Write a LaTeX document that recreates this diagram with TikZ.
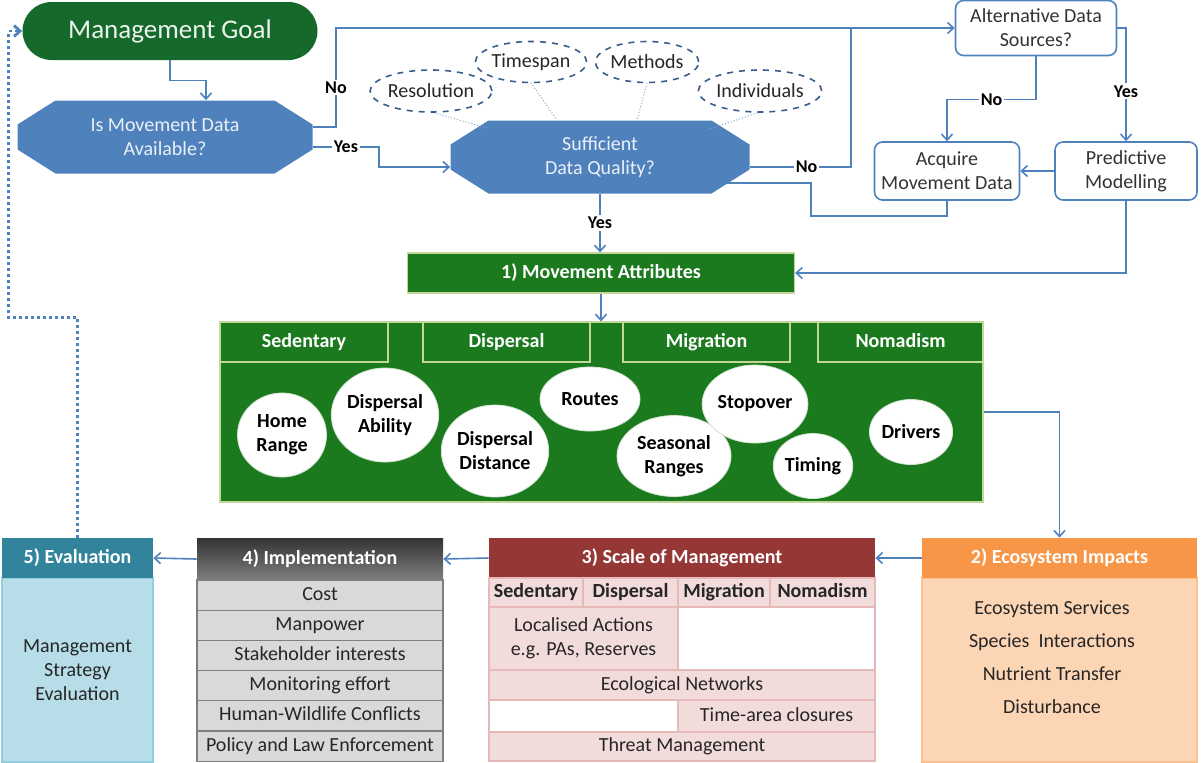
\documentclass[tikz,border=0pt]{standalone}
\usepackage{fontspec}
\setmainfont{Carlito}
\usetikzlibrary{shapes.geometric,shapes.misc,arrows.meta}

\definecolor{lineblue}{HTML}{4F81BD}
\definecolor{cGoal}{HTML}{156A2B}
\definecolor{cGreen}{HTML}{1C7A1E}
\definecolor{cTab}{HTML}{C4D79B}
\definecolor{cEll}{HTML}{385D8A}
\definecolor{cEval}{HTML}{31849B}
\definecolor{cEvalBody}{HTML}{B7DEE8}
\definecolor{cEvalLine}{HTML}{92CDDC}
\definecolor{cImplRow}{HTML}{D9D9D9}
\definecolor{cImplLine}{HTML}{7F7F7F}
\definecolor{cScale}{HTML}{953735}
\definecolor{cScaleCell}{HTML}{F2DCDB}
\definecolor{cScaleLine}{HTML}{E6B9B8}
\definecolor{cEco}{HTML}{F79646}
\definecolor{cEcoBody}{HTML}{FCD5B5}
\definecolor{cEcoLine}{HTML}{FAC090}

\begin{document}
\begin{tikzpicture}[x=0.5pt,y=-0.5pt,>={Straight Barb[length=3pt,width=5.5pt]},
  font=\fontsize{10}{12}\selectfont,
  link/.style={draw=lineblue,line width=0.8pt},
  hint/.style={draw=lineblue!70,densely dotted,line width=0.5pt},
  loopback/.style={draw=lineblue,line width=1.4pt,dash pattern=on 1.4pt off 1.6pt},
  yn/.style={fill=white,inner sep=1pt,font=\fontsize{9}{10}\selectfont\bfseries},
  even/.style={text height=7pt,text depth=2pt},
  decision/.style={minimum width=147.5pt,minimum height=36.5pt,inner sep=0pt,align=center,text=white!88!lineblue,
    path picture={\fill[lineblue] ([xshift=19pt]path picture bounding box.north west)
      -- ([xshift=-19pt]path picture bounding box.north east) -- ([yshift=-12pt]path picture bounding box.north east)
      -- ([yshift=12pt]path picture bounding box.south east) -- ([xshift=-19pt]path picture bounding box.south east)
      -- ([xshift=19pt]path picture bounding box.south west) -- ([yshift=12pt]path picture bounding box.south west)
      -- ([yshift=-12pt]path picture bounding box.north west) -- cycle;}},
  factor/.style={ellipse,draw=cEll,dashed,line width=0.8pt,fill=white,inner sep=0pt,text=black!85},
  choice/.style={rounded corners=4pt,draw=lineblue,line width=0.8pt,fill=white,align=center,text=black!80,inner sep=0pt},
  bar/.style={even,fill=cGreen,draw=cTab,line width=0.6pt,text=white,font=\fontsize{10}{12}\selectfont\bfseries,inner sep=0pt},
  blob/.style={ellipse,fill=white,draw=white!80!cGreen,inner sep=0pt,align=center,font=\fontsize{10}{12}\selectfont\bfseries},
  head/.style={even,text=white,font=\fontsize{10}{12}\selectfont\bfseries,inner sep=0pt},
  implrow/.style={even,fill=cImplRow,draw=cImplLine,line width=0.6pt,minimum width=123pt,minimum height=15.1pt,inner sep=0pt,text=black!85},
  scalecell/.style={fill=cScaleCell,draw=cScaleLine,line width=0.8pt,inner sep=0pt,text=black!85,align=center},
  scaletag/.style={scalecell,even,minimum height=14.5pt,font=\fontsize{10}{12}\selectfont\bfseries}]

\useasboundingbox (0,0) rectangle (1202,762);

% top part
\node[rounded rectangle,fill=cGoal,text=white!92!cGoal,minimum width=147.5pt,minimum height=29pt,inner sep=0pt,
  font=\fontsize{13.5}{15}\selectfont] (goal) at (170,31) {Management Goal};
\node[decision] (avail) at (165,137) {Is Movement Data\\Available?};
\node[decision,minimum width=149.5pt] (suff) at (600,157) {Sufficient\\Data Quality?};

\draw[hint] (431,112) -- ([xshift=-56.5pt,yshift=14.5pt]suff.center);
\draw[hint] (531,83) -- ([xshift=-21.5pt,yshift=18.5pt]suff.center);
\draw[hint] (647,83) -- ([xshift=18.5pt,yshift=18.5pt]suff.center);
\draw[hint] (760,112) -- ([xshift=53.5pt,yshift=13.5pt]suff.center);

\node[factor,minimum width=51.5pt,minimum height=21pt] (res) at (431,91) {Resolution};
\node[factor,minimum width=52pt,minimum height=20.5pt] (time) at (531,62) {Timespan};
\node[factor,minimum width=51.5pt,minimum height=20.5pt] (meth) at (647,62) {Methods};
\node[factor,minimum width=52.5pt,minimum height=21pt] (indiv) at (760,91) {Individuals};

\node[choice,minimum width=80.5pt,minimum height=27.5pt] (alt) at (1036,28) {Alternative Data\\Sources?};
\node[choice,minimum width=72.5pt,minimum height=29pt] (acquire) at (947,171) {Acquire\\Movement Data};
\node[choice,minimum width=71pt,minimum height=29pt] (predict) at (1126,171) {Predictive\\Modelling};

\node[bar,minimum width=193.5pt,minimum height=20pt] (attr) at (601,273) {1) Movement Attributes};

\coordinate (join) at (851,28);

\draw[link,->] (goal.south) -- ++(0,20) -| ([xshift=20.5pt]avail.north);
\draw[link,->] ([yshift=5pt]avail.east) -- ++(23,0) |- node[yn,pos=0.2] {No} (alt.west);
\draw[link,->] ([yshift=-5pt]avail.east) -- node[yn] {Yes} ++(66,0) |- ([yshift=-5pt]suff.west);
\draw[link] ([yshift=-5pt]suff.east) -| node[yn,pos=0.28] {No} (join);
\draw[link,->] (alt.east) -| node[yn,pos=0.78] {Yes} (predict.north);
\draw[link,->] (alt.south) -- ++(0,43) -| node[yn,pos=0.25] {No} (acquire.north);
\draw[link,->] (predict.west) -- (acquire.east);
\draw[link,->] (acquire.south) -- ++(0,15) -- ++(-136,0) |- ([xshift=54pt,yshift=-13pt]suff.center);
\draw[link,->] (suff.south) -- node[yn] {Yes} (suff.south |- attr.north);
\draw[link,->] (predict.south) |- (attr.east);

% movement panel
\node[fill=cGreen,draw=cTab,line width=0.6pt,minimum width=381.5pt,minimum height=90pt,inner sep=0pt] (panel) at (601.5,412) {};
\draw[link,->] (attr.south) -- (attr.south |- panel.north);

\node[bar,minimum width=84pt,minimum height=20pt] (sed) at (304,342) {Sedentary};
\node[bar,minimum width=83.5pt,minimum height=20pt] (disp) at (506.5,342) {Dispersal};
\node[bar,minimum width=83.5pt,minimum height=20pt] (migr) at (706.5,342) {Migration};
\node[bar,minimum width=82.5pt,minimum height=20pt] (nomad) at (900.5,342) {Nomadism};

\node[blob,minimum width=44.5pt,minimum height=42pt] (home) at (282,435) {Home\\Range};
\node[blob,minimum width=52.5pt,minimum height=47pt] (ability) at (385,415) {Dispersal\\Ability};
\node[blob,minimum width=52pt,minimum height=46pt] (distance) at (495,451) {Dispersal\\Distance};
\node[blob,minimum width=50pt,minimum height=32pt] (routes) at (590,399) {Routes};
\node[blob,minimum width=57pt,minimum height=40.5pt] (seasonal) at (674,456) {Seasonal\\Ranges};
\node[blob,minimum width=44.5pt,minimum height=39pt] (stopover) at (755,404) {Stopover};
\node[blob,minimum width=38.5pt,minimum height=32.5pt] (timing) at (813,466) {Timing};
\node[blob,minimum width=41.5pt,minimum height=32.5pt] (drivers) at (911,432) {Drivers};

% bottom row
\node[fill=cEcoBody,draw=cEcoLine,line width=0.8pt,minimum width=137.5pt,minimum height=92pt,inner sep=0pt] (ecobody) at (1059.5,670) {};
\node[head,fill=cEco,minimum width=137.5pt,minimum height=20pt] (ecohead) at (1059.5,558) {2) Ecosystem Impacts};
\node[align=center,text=black!85] (ecotext) at (1052,657) {Ecosystem Services\\[4.5pt]Species\ \ Interactions\\[4.5pt]Nutrient Transfer\\[4.5pt]Disturbance};

\node[head,fill=cScale,minimum width=193pt,minimum height=20pt] (scalehead) at (682,558) {3) Scale of Management};
\node[scaletag,minimum width=47pt] (sedcell) at (536,592.5) {Sedentary};
\node[scaletag,minimum width=47.5pt] (discell) at (630.5,592.5) {Dispersal};
\node[scaletag,minimum width=46pt] (migcell) at (724,592.5) {Migration};
\node[scaletag,minimum width=52.5pt] (nomcell) at (822.5,592.5) {Nomadism};
\node[scalecell,minimum width=94.5pt,minimum height=31.5pt] (localcell) at (583.5,638.5) {Localised Actions\\e.g. PAs, Reserves};
\node[scalecell,fill=white,minimum width=98.5pt,minimum height=31.5pt] (gapA) at (776.5,638.5) {};
\node[scalecell,even,minimum width=193pt,minimum height=15pt] (ecolcell) at (682,685) {Ecological Networks};
\node[scalecell,fill=white,minimum width=94.5pt,minimum height=16pt] (gapB) at (583.5,716) {};
\node[scalecell,even,minimum width=98.5pt,minimum height=16pt] (closecell) at (776.5,716) {Time-area closures};
\node[scalecell,even,minimum width=193pt,minimum height=14.5pt] (threatcell) at (682,746.5) {Threat Management};

\node[head,top color=black!80,bottom color=black!50,minimum width=123pt,minimum height=21pt] (implhead) at (320,559) {4) Implementation};
\node[implrow] (cost) at (320,595) {Cost};
\node[implrow] (manpower) at (320,625.2) {Manpower};
\node[implrow] (stake) at (320,655.4) {Stakeholder interests};
\node[implrow] (monitor) at (320,685.6) {Monitoring effort};
\node[implrow] (conflict) at (320,715.8) {Human-Wildlife Conflicts};
\node[implrow] (policy) at (320,746) {Policy and Law Enforcement};

\node[fill=cEvalBody,draw=cEvalLine,line width=0.8pt,minimum width=75.5pt,minimum height=92pt,inner sep=0pt,
  align=center,text=black!85] (evalbody) at (77.5,670) {Management\\Strategy\\Evaluation};
\node[head,fill=cEval,minimum width=75.5pt,minimum height=20pt] (evalhead) at (77.5,558) {5) Evaluation};

\draw[link,->] (panel.east) -| (ecohead.north);
\draw[link,->] (ecohead.west) -- (scalehead.east);
\draw[link,->] (scalehead.west) -- (implhead.west -| implhead.east);
\draw[link,->] (implhead.west) -- (evalhead.east);
\draw[loopback,->] (evalhead.north) -- ++(0,-220) -- ++(-69,0) |- (goal.west);

\end{tikzpicture}
\end{document}
